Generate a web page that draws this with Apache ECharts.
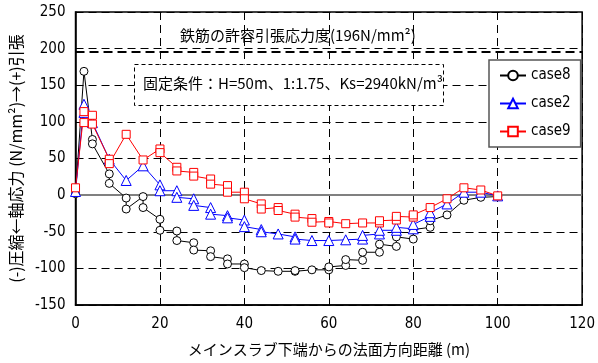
<!DOCTYPE html>
<html>
<head>
<meta charset="utf-8">
<script src="https://cdn.jsdelivr.net/npm/echarts@6/dist/echarts.min.js"></script>
<style>
  html, body { margin: 0; padding: 0; background: #fff; }
  #chart { width: 598px; height: 363px; }
</style>
</head>
<body>
<div id="chart"></div>
<script>
// Axial stress along the slope (distance from slab bottom, stress in N/mm2).
// Nodes with two entries carry the values at both element ends.
const case8 = [
  [0, 2], [2, 169], [4, 76], [4, 70], [8, 29], [8, 16], [12, -4], [12, -19],
  [16, -2], [16, -17], [20, -33], [20, -48], [24, -49], [24, -62], [28, -65], [28, -75],
  [32, -76], [32, -84], [36, -87], [36, -94], [40, -94], [40, -99], [44, -103], [48, -104],
  [52, -104], [52, -103], [56, -102], [60, -102], [60, -98], [64, -96], [64, -88],
  [68, -89], [68, -78], [72, -78], [72, -67], [76, -70], [76, -57], [80, -60], [80, -47],
  [84, -44], [84, -35], [88, -27], [92, -7], [96, -3], [100, -2]
];
const case2 = [
  [0, 5], [2, 124], [2, 113], [4, 99], [8, 49], [12, 20], [16, 40], [20, 14], [20, 6],
  [24, 6], [24, -3], [28, -5], [28, -14], [32, -17], [32, -26], [36, -28], [36, -31],
  [40, -34], [40, -43], [44, -47], [44, -50], [48, -53], [52, -57], [52, -60], [56, -62],
  [60, -62], [64, -61], [68, -60], [68, -55], [72, -53], [72, -48], [76, -48], [76, -44],
  [80, -46], [80, -40], [84, -29], [84, -24], [88, -12], [92, 4], [96, 4], [100, -1]
];
const case9 = [
  [0, 10], [2, 114], [2, 99], [4, 109], [4, 97], [8, 49], [8, 43], [12, 83], [16, 48],
  [20, 63], [20, 58], [24, 38], [24, 33], [28, 31], [28, 26], [32, 22], [32, 15],
  [36, 13], [36, 4], [40, 4], [40, -5], [44, -12], [44, -19], [48, -17], [48, -21],
  [52, -26], [52, -30], [56, -32], [56, -37], [60, -36], [60, -38], [64, -39], [68, -38],
  [72, -38], [72, -35], [76, -34], [76, -29], [80, -30], [80, -27], [84, -17], [88, -5],
  [92, 10], [96, 7], [100, -1]
];
const allowableStress = 196;
const xTicks = { min: 0, max: 120, interval: 20 };
const yTicks = { min: -150, max: 250, interval: 50 };

const numFont = "'Liberation Sans Narrow', 'DejaVu Sans Condensed', 'Liberation Sans', sans-serif";
const jpFont = "'Noto Sans CJK JP', sans-serif";
const dash = [8, 5];

const chart = echarts.init(document.getElementById('chart'), null, { renderer: 'canvas' });

function lineSeries(name, data, color, symbol, size) {
  return {
    name, type: 'line', data,
    symbol, symbolSize: size, showSymbol: true,
    lineStyle: { color, width: 1 },
    itemStyle: { color: '#fff', borderColor: color, borderWidth: 1 },
    emphasis: { disabled: true },
    animation: false, z: 5
  };
}

chart.setOption({
  animation: false,
  grid: {
    left: 73, right: 13, top: 12, bottom: 58,
    show: true, borderColor: '#000', borderWidth: 1.5, backgroundColor: 'transparent'
  },
  xAxis: {
    type: 'value', min: xTicks.min, max: xTicks.max, interval: xTicks.interval,
    axisLine: { onZero: false, lineStyle: { color: '#000', width: 1.5 } },
    axisTick: { inside: true, length: 5, lineStyle: { color: '#000' } },
    axisLabel: { color: '#000', fontFamily: numFont, fontSize: 15, margin: 12 },
    splitLine: { show: true, lineStyle: { color: '#000', type: dash, width: 1 } },
    name: 'メインスラブ下端からの法面方向距離 (m)',
    nameLocation: 'middle', nameGap: 37,
    nameTextStyle: { color: '#000', fontFamily: jpFont, fontSize: 15 }
  },
  yAxis: {
    type: 'value', min: yTicks.min, max: yTicks.max, interval: yTicks.interval,
    axisLine: { lineStyle: { color: '#000', width: 1.5 } },
    axisTick: { show: true, inside: true, length: 5, lineStyle: { color: '#000' } },
    axisLabel: { color: '#000', fontFamily: numFont, fontSize: 15, margin: 10 },
    splitLine: { show: true, lineStyle: { color: '#000', type: dash, width: 1 } },
    name: '(-)圧縮←軸応力 (N/mm²)→(+)引張',
    nameLocation: 'middle', nameRotate: 90, nameGap: 47,
    nameTextStyle: { color: '#000', fontFamily: jpFont, fontSize: 16 }
  },
  legend: {
    orient: 'vertical', left: 489, top: 60,
    padding: [8, 10, 8, 10], itemGap: 13, itemWidth: 26, itemHeight: 12,
    backgroundColor: '#fff', borderColor: '#555', borderWidth: 1.5, borderRadius: 0,
    textStyle: { color: '#000', fontFamily: numFont, fontSize: 15 },
    data: ['case8', 'case2', 'case9']
  },
  graphic: [
    {
      type: 'text', left: 180, top: 28, z: 10,
      style: { text: '鉄筋の許容引張応力度(196N/mm²)', font: '15px ' + jpFont, fill: '#000' }
    },
    {
      type: 'rect', left: 134, top: 64, z: 10,
      shape: { width: 309, height: 41 },
      style: { fill: '#fff', stroke: '#000', lineWidth: 1, lineDash: [4, 3] }
    },
    {
      type: 'text', left: 143, top: 76, z: 11,
      style: { text: '固定条件：H=50m、1:1.75、Ks=2940kN/m³', font: '15px ' + jpFont, fill: '#000' }
    }
  ],
  series: [
    Object.assign(lineSeries('case8', case8, '#000000', 'circle', 8), {
      markLine: {
        silent: true, symbol: 'none', animation: false,
        label: { show: false },
        data: [
          { yAxis: allowableStress, lineStyle: { color: '#000', width: 2, type: [9, 5] } },
          { yAxis: 0, lineStyle: { color: '#808080', width: 2, type: 'solid' } }
        ]
      }
    }),
    lineSeries('case2', case2, '#0000ff', 'triangle', 10),
    lineSeries('case9', case9, '#ff0000', 'rect', 8)
  ]
});
</script>
</body>
</html>
